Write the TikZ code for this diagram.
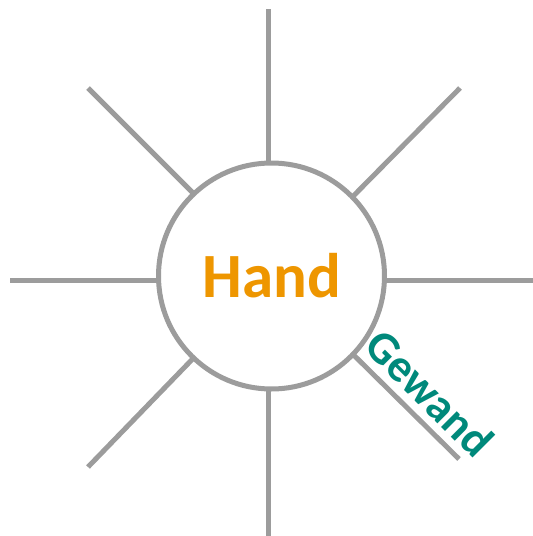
\documentclass[tikz,border=0pt]{standalone}
\usepackage{fontspec}
\setmainfont{Carlito}
\definecolor{spokegray}{HTML}{9C9C9C}
\definecolor{handorange}{HTML}{EE9600}
\definecolor{gewandteal}{HTML}{00897B}
\tikzset{
  spoke/.style={draw=spokegray, line width=5pt},
  hubstyle/.style={circle, draw=spokegray, fill=white, line width=5pt, minimum size=226pt, inner sep=0pt},
  mainword/.style={font=\bfseries\fontsize{63}{63}\selectfont, text=handorange},
  sideword/.style={font=\bfseries\fontsize{46}{46}\selectfont, text=gewandteal, rotate=-45, inner sep=0pt}
}
\begin{document}
\begin{tikzpicture}[x=1pt,y=-1pt]
\useasboundingbox (0,0) rectangle (533,536);
% outer ends
\coordinate (top) at (268,9);
\coordinate (bot) at (268,536);
\coordinate (lft) at (10,280);
\coordinate (rgt) at (533,280);
\coordinate (tl) at (88,88);
\coordinate (tr) at (460,88);
\coordinate (bl) at (88,467);
\coordinate (br) at (459,459);
% inner ends (hidden under the hub)
\coordinate (topi) at (268,250);
\coordinate (boti) at (268,300);
\coordinate (lfti) at (250,280);
\coordinate (rgti) at (290,280);
\coordinate (tli) at (240,240);
\coordinate (tri) at (300,250);
\coordinate (bli) at (240,310);
\coordinate (bri) at (300,302);
\foreach \o in {top,bot,lft,rgt,tl,tr,bl,br}{
  \draw[spoke] (\o i) -- (\o);
}
\node[hubstyle] (hub) at (271.5,276) {};
\node[mainword] (hand) at (272,276) {Hand};
\node[sideword] (gewand) at (430,393) {Gewand};
\end{tikzpicture}
\end{document}
